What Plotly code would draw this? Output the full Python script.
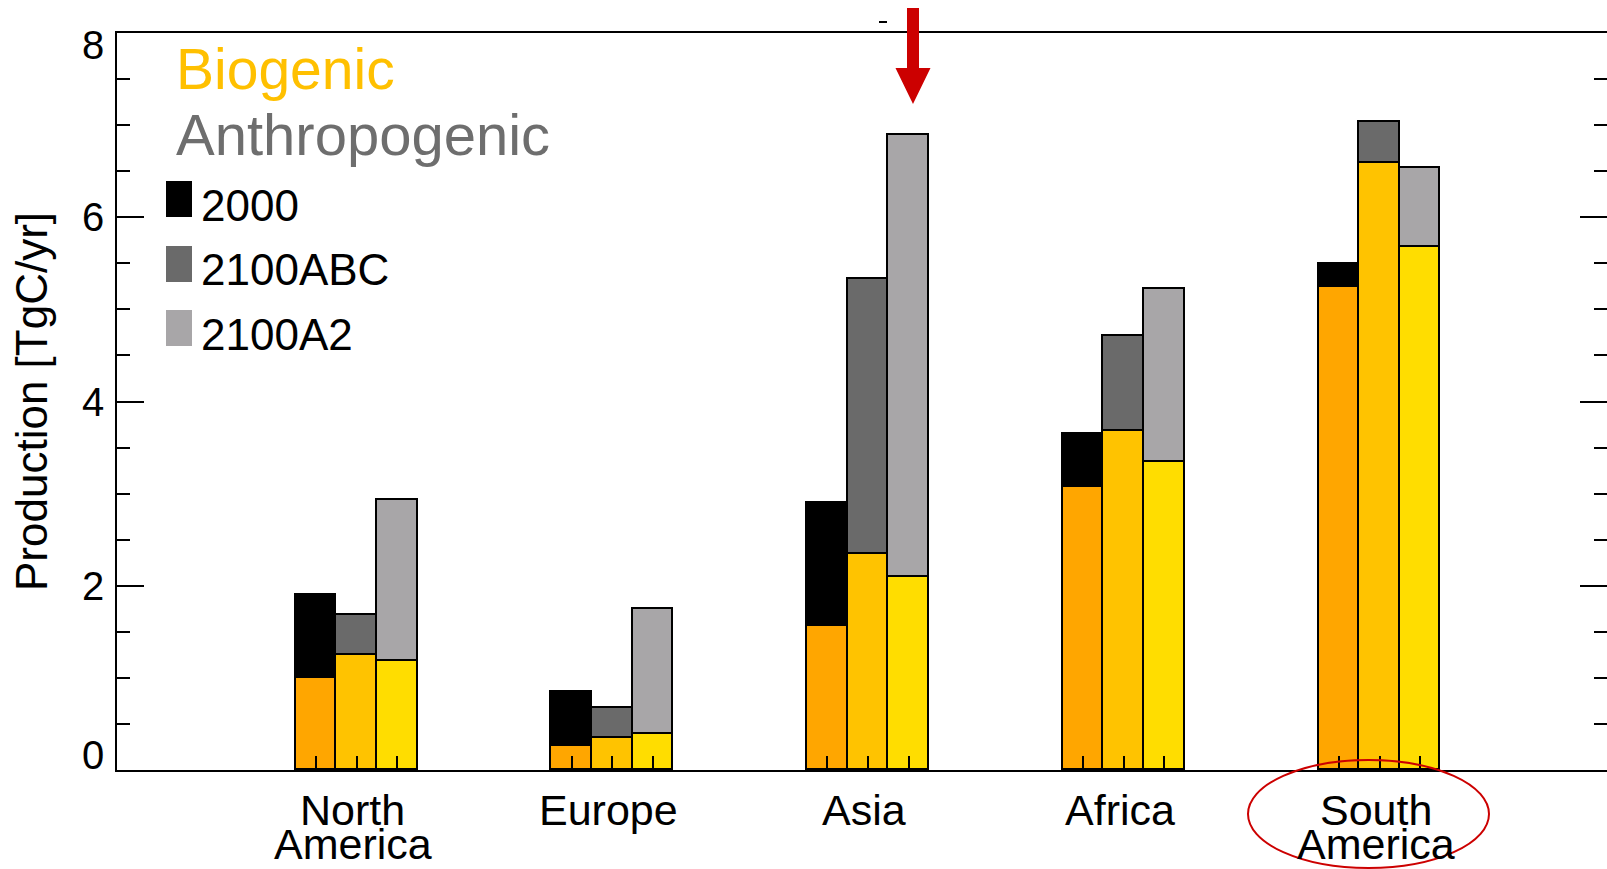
import plotly.graph_objects as go

# ---------------- data ----------------
categories = ["North<br>America", "Europe", "Asia", "Africa", "South<br>America"]
scenarios = ["2000", "2100ABC", "2100A2"]

biogenic_2000 = [1.00, 0.26, 1.56, 3.07, 5.24]
biogenic_2100ABC = [1.25, 0.35, 2.35, 3.68, 6.59]
biogenic_2100A2 = [1.18, 0.39, 2.10, 3.34, 5.68]

anthropogenic_2000 = [0.90, 0.59, 1.34, 0.58, 0.25]
anthropogenic_2100ABC = [0.43, 0.32, 2.98, 1.03, 0.44]
anthropogenic_2100A2 = [1.75, 1.36, 4.79, 1.88, 0.85]

y_ticks = [0, 2, 4, 6, 8]

# ---------------- styles ----------------
W, H = 1607, 869
L, R, T, B = 117, 0, 33, 99
FONT = "Liberation Sans, Arial, Helvetica, sans-serif"
BAR_W = 0.159
GROUP_PX0, GROUP_DPX = 356.7, 255.7   # pixel centre of first group, pixel spacing
bio_colors = ["#FFA600", "#FFC300", "#FFDD00"]
anth_colors = ["#000000", "#6A6A6A", "#A8A6A8"]


def px2x(px):
    return (px - L) / (W - L - R)


def py2y(py):
    return (H - B - py) / (H - B - T)


bio = [biogenic_2000, biogenic_2100ABC, biogenic_2100A2]
anth = [anthropogenic_2000, anthropogenic_2100ABC, anthropogenic_2100A2]
offsets = [-BAR_W, 0.0, BAR_W]

fig = go.Figure()
for k, name in enumerate(scenarios):
    xs = [i + offsets[k] for i in range(len(categories))]
    fig.add_trace(go.Bar(
        x=xs, y=bio[k], width=BAR_W, name="Biogenic " + name,
        marker=dict(color=bio_colors[k], line=dict(color="black", width=1.8)),
        showlegend=False))
for k, name in enumerate(scenarios):
    xs = [i + offsets[k] for i in range(len(categories))]
    fig.add_trace(go.Bar(
        x=xs, y=anth[k], width=BAR_W, name="Anthropogenic " + name,
        marker=dict(color=anth_colors[k], line=dict(color="black", width=1.8)),
        showlegend=False))

# invisible trace for right-hand tick axis
fig.add_trace(go.Scatter(x=[None], y=[None], yaxis="y2", showlegend=False,
                         hoverinfo="skip", mode="markers"))

bar_positions = sorted(i + o for i in range(len(categories)) for o in offsets)

x_lo = (L - GROUP_PX0) / GROUP_DPX
x_hi = (W - R - GROUP_PX0) / GROUP_DPX

fig.update_layout(
    width=W, height=H,
    margin=dict(l=L, r=R, t=T, b=B, pad=0),
    plot_bgcolor="white", paper_bgcolor="white",
    barmode="stack", bargap=0,
    font=dict(family=FONT, color="black"),
    xaxis=dict(range=[x_lo, x_hi], showgrid=False, zeroline=False,
               showline=True, linewidth=2, linecolor="black", mirror=True,
               tickmode="array", tickvals=bar_positions,
               ticktext=[""] * len(bar_positions),
               ticks="inside", ticklen=14, tickwidth=1.5, tickcolor="black"),
    yaxis=dict(range=[0, 8], showgrid=False, zeroline=False,
               showline=True, linewidth=2, linecolor="black",
               tickmode="array", tickvals=y_ticks, showticklabels=False,
               ticks="inside", ticklen=27, tickwidth=1.5, tickcolor="black",
               minor=dict(dtick=0.5, ticks="inside", ticklen=13,
                          tickwidth=1.5, tickcolor="black")),
    yaxis2=dict(range=[0, 8], overlaying="y", side="right", anchor="x",
                showgrid=False, zeroline=False, showline=False,
                showticklabels=False, tickmode="array", tickvals=y_ticks,
                ticks="inside", ticklen=27, tickwidth=1.5, tickcolor="black",
                minor=dict(dtick=0.5, ticks="inside", ticklen=13,
                           tickwidth=1.5, tickcolor="black")),
)

annotations = []
# y tick labels (end labels pulled inside the axis span, as in the original)
for v in y_ticks:
    shift = 0
    if v == y_ticks[0]:
        shift = 15
    elif v == y_ticks[-1]:
        shift = -12
    annotations.append(dict(
        x=px2x(106), xref="paper", y=v, yref="y", yshift=shift,
        text=str(v), showarrow=False, xanchor="right", yanchor="middle",
        font=dict(size=40, family=FONT, color="black")))

# category labels
for i, cat in enumerate(categories):
    lines = cat.split("<br>")
    for j, line in enumerate(lines):
        annotations.append(dict(
            x=i, xref="x", xshift=-4, y=py2y([810, 844][j]), yref="paper",
            text=line, showarrow=False, xanchor="center", yanchor="middle",
            font=dict(size=43, family=FONT, color="black")))

# y-axis title
annotations.append(dict(
    x=px2x(31), xref="paper", y=py2y(402), yref="paper",
    text="Production [TgC/yr]", textangle=-90, showarrow=False,
    xanchor="center", yanchor="middle",
    font=dict(size=44, family=FONT, color="black")))

# legend texts
annotations.append(dict(x=px2x(174), xref="paper", y=py2y(69), yref="paper",
                        text="Biogenic", showarrow=False, xanchor="left",
                        yanchor="middle",
                        font=dict(size=57, family=FONT, color="#FFC000")))
annotations.append(dict(x=px2x(174), xref="paper", y=py2y(134), yref="paper",
                        text="Anthropogenic", showarrow=False, xanchor="left",
                        yanchor="middle",
                        font=dict(size=58, family=FONT, color="#6E6E6E")))
legend_centers = [205, 269, 334]
for k, name in enumerate(scenarios):
    annotations.append(dict(x=px2x(199), xref="paper",
                            y=py2y(legend_centers[k]), yref="paper",
                            text=name, showarrow=False, xanchor="left",
                            yanchor="middle",
                            font=dict(size=44, family=FONT, color="black")))
fig.update_layout(annotations=annotations)

shapes = []
box_tops = [181, 246, 310]
for k in range(3):
    shapes.append(dict(type="rect", xref="paper", yref="paper",
                       x0=px2x(166), x1=px2x(192),
                       y0=py2y(box_tops[k]), y1=py2y(box_tops[k] + 36),
                       fillcolor=anth_colors[k], line=dict(width=0)))

# red arrow
ax = 913
pts = [(ax - 6, 8), (ax + 6, 8), (ax + 6, 68), (ax + 17.5, 68), (ax, 104),
       (ax - 17.5, 68), (ax - 6, 68)]
path = "M " + " L ".join(f"{px2x(p[0]):.5f},{py2y(p[1]):.5f}" for p in pts) + " Z"
shapes.append(dict(type="path", xref="paper", yref="paper", path=path,
                   fillcolor="#CC0000", line=dict(width=0)))
# red ellipse around South America
shapes.append(dict(type="circle", xref="paper", yref="paper",
                   x0=px2x(1248), x1=px2x(1489), y0=py2y(760), y1=py2y(868),
                   line=dict(color="#CC0000", width=2), fillcolor="rgba(0,0,0,0)"))
# small dash above plot
shapes.append(dict(type="line", xref="paper", yref="paper",
                   x0=px2x(879), x1=px2x(887), y0=py2y(22), y1=py2y(22),
                   line=dict(color="black", width=2)))
fig.update_layout(shapes=shapes)

fig.write_html("out.html", config={"displayModeBar": False},
               post_script="document.body.style.margin='0';document.body.style.overflow='hidden';")
